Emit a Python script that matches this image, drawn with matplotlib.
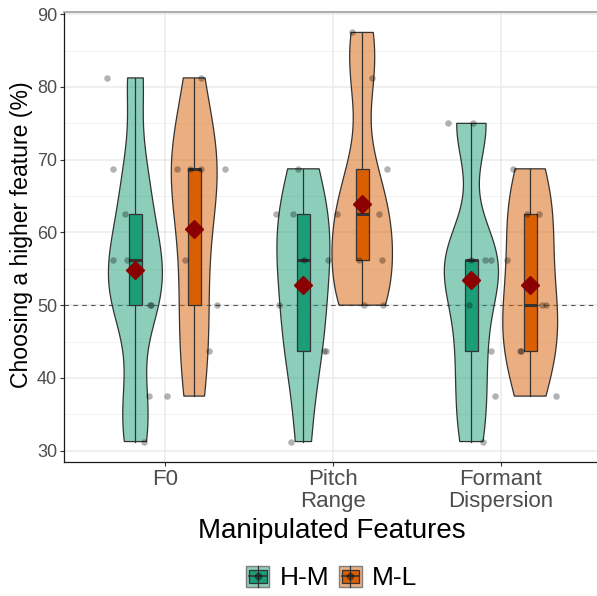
import numpy as np
import matplotlib
matplotlib.use("Agg")
import matplotlib.pyplot as plt
from matplotlib.patches import Rectangle, Polygon
from matplotlib.lines import Line2D
from matplotlib.legend_handler import HandlerBase
from matplotlib.colors import to_rgba

plt.rcParams['font.family'] = ['Liberation Sans', 'DejaVu Sans']

features = ["F0", "Pitch\nRange", "Formant\nDispersion"]
groups = ["H-M", "M-L"]
colors = {"H-M": "#1b9e77", "M-L": "#d95f02"}

# % choosing the higher feature, one value per participant
f0_hm = [81.25, 68.75, 62.5, 56.25, 56.25, 50, 50, 37.5, 31.25]
f0_ml = [81.25, 68.75, 68.75, 68.75, 68.75, 56.25, 50, 43.75, 37.5]
pitch_hm = [68.75, 62.5, 62.5, 56.25, 56.25, 50, 43.75, 43.75, 31.25]
pitch_ml = [87.5, 81.25, 68.75, 62.5, 62.5, 56.25, 56.25, 50, 50]
formant_hm = [75, 75, 56.25, 56.25, 56.25, 50, 43.75, 37.5, 31.25]
formant_ml = [68.75, 62.5, 62.5, 56.25, 50, 50, 43.75, 43.75, 37.5]

# horizontal jitter of the points (same order)
f0_hm_jit = [-0.167, -0.131, -0.06, -0.131, -0.048, 0.095, 0.085, 0.083, 0.054]
f0_ml_jit = [0.042, -0.101, -0.024, 0.042, 0.185, -0.054, 0.137, 0.089, -0.161]
pitch_hm_jit = [-0.03, -0.161, -0.06, 0.006, 0.149, -0.143, 0.125, 0.137, -0.071]
pitch_ml_jit = [-0.06, 0.06, 0.149, -0.149, 0.101, -0.018, 0.119, 0.012, 0.125]
formant_hm_jit = [-0.137, 0.012, 0.0, 0.083, 0.119, -0.012, 0.119, 0.143, 0.071]
formant_ml_jit = [-0.101, -0.018, 0.054, -0.137, 0.071, 0.095, -0.06, -0.055, 0.155]

data = [[f0_hm, f0_ml], [pitch_hm, pitch_ml], [formant_hm, formant_ml]]
jitter = [[f0_hm_jit, f0_ml_jit], [pitch_hm_jit, pitch_ml_jit],
          [formant_hm_jit, formant_ml_jit]]

DODGE = 0.175
VIOLIN_HALF = 0.18
BOX_HALF = 0.038
DARK = "#333333"


def kde(vals):
    v = np.asarray(vals, float)
    n = len(v)
    q1, q3 = np.percentile(v, [25, 75])
    bw = 0.9 * min(v.std(ddof=1), (q3 - q1) / 1.34) * n ** -0.2
    y = np.linspace(v.min(), v.max(), 512)
    d = np.exp(-0.5 * ((y[:, None] - v[None, :]) / bw) ** 2).sum(1)
    d = d / (n * bw * np.sqrt(2 * np.pi))
    return y, d


dens = [[kde(g) for g in feat] for feat in data]
dmax = max(d.max() for feat in dens for _, d in feat)

fig = plt.figure(figsize=(5.97, 5.96), dpi=100)
ax = fig.add_axes([64 / 597, (596 - 462) / 596, 537.6 / 597, 450 / 596])

for i, feat in enumerate(data):
    for j, vals in enumerate(feat):
        g = groups[j]
        c = colors[g]
        x = i + 1 + (j * 2 - 1) * DODGE
        v = np.asarray(vals, float)
        # violin (area scaled)
        yy, d = dens[i][j]
        w = d / dmax * VIOLIN_HALF
        pts = np.concatenate([np.column_stack([x - w, yy]),
                              np.column_stack([x + w, yy])[::-1]])
        ax.add_patch(Polygon(pts, closed=True, facecolor=to_rgba(c, 0.5),
                             edgecolor=DARK, lw=0.9, zorder=2))
        # boxplot
        q1, med, q3 = np.percentile(v, [25, 50, 75])
        iqr = q3 - q1
        lo = v[v >= q1 - 1.5 * iqr].min()
        hi = v[v <= q3 + 1.5 * iqr].max()
        ax.plot([x, x], [lo, q1], color=DARK, lw=0.9, zorder=3)
        ax.plot([x, x], [q3, hi], color=DARK, lw=0.9, zorder=3)
        ax.add_patch(Rectangle((x - BOX_HALF, q1), 2 * BOX_HALF, iqr,
                               facecolor=c, edgecolor=DARK, lw=0.9, zorder=3))
        ax.plot([x - BOX_HALF, x + BOX_HALF], [med, med], color=DARK,
                lw=2.2, zorder=3, solid_capstyle='butt')
        # jittered points
        ax.scatter(x + np.asarray(jitter[i][j]), v, s=22, color='black',
                   alpha=0.3, lw=0, zorder=4)
        # mean
        ax.plot([x], [v.mean()], marker='D', ms=9, color='#8b0000',
                mec='#8b0000', zorder=5)

ax.axhline(50, color='#555555', lw=0.8, ls=(0, (4, 4)), zorder=1.5)

ax.set_xlim(0.4, 3.6)
ax.set_ylim(28.44, 90.31)
ax.set_xticks([1, 2, 3])
ax.set_xticklabels(features, fontsize=16, color='#4d4d4d', linespacing=1.05)
ax.set_yticks(np.arange(30, 91, 10))
ax.set_yticks(np.arange(35, 90, 10), minor=True)
ax.tick_params(axis='y', labelsize=13, labelcolor='#4d4d4d', length=3,
               width=0.8, color=DARK, pad=2)
ax.tick_params(axis='x', length=3, width=0.8, color=DARK, pad=2)
ax.tick_params(axis='y', which='minor', length=0)
ax.grid(True, which='major', color='#ebebeb', lw=1.1, zorder=0)
ax.grid(True, which='minor', axis='y', color='#f0f0f0', lw=0.6, zorder=0)
ax.set_axisbelow(True)

ax.spines['right'].set_visible(False)
ax.spines['top'].set_color('#a6a6a6')
ax.spines['top'].set_linewidth(1.3)
for s in ['left', 'bottom']:
    ax.spines[s].set_color('#1a1a1a')
    ax.spines[s].set_linewidth(0.9)

fig.text(22 / 597, 1 - 235 / 596, "Choosing a higher feature (%)",
         rotation=90, ha='center', va='center', fontsize=16.6)
fig.text(332 / 597, 1 - 538 / 596, "Manipulated Features", ha='center',
         va='baseline', fontsize=20)


class KeyHandler(HandlerBase):
    def create_artists(self, legend, orig_handle, xd, yd, w, h, fontsize,
                       trans):
        c = orig_handle.get_facecolor()
        x0, y0 = -xd, -yd
        outer = Rectangle((x0, y0), w, h, facecolor=to_rgba(c, 0.5),
                          edgecolor='#7f7f7f', lw=1.0, transform=trans)
        inner = Rectangle((x0 + w * 0.12, y0 + h * 0.2), w * 0.76, h * 0.6,
                          facecolor=c, edgecolor=DARK, lw=0.9,
                          transform=trans)
        vline = Line2D([x0 + w / 2] * 2, [y0, y0 + h], color=DARK, lw=0.9,
                       transform=trans)
        hline = Line2D([x0 + w * 0.12, x0 + w * 0.88], [y0 + h / 2] * 2,
                       color=DARK, lw=1.2, transform=trans)
        dot = Line2D([x0 + w / 2], [y0 + h / 2], marker='o', ms=4.5,
                     color='black', alpha=0.35, lw=0, transform=trans)
        return [outer, inner, vline, hline, dot]


handles = [Rectangle((0, 0), 1, 1, facecolor=colors[g]) for g in groups]
fig.legend(handles, groups, handler_map={Rectangle: KeyHandler()},
           loc='center', bbox_to_anchor=(332 / 597, 1 - 578 / 596), ncol=2,
           frameon=False, fontsize=19, handlelength=0.87, handleheight=0.87,
           handletextpad=0.4, columnspacing=0.35, borderpad=0)

fig.savefig("out.png", dpi=100)
